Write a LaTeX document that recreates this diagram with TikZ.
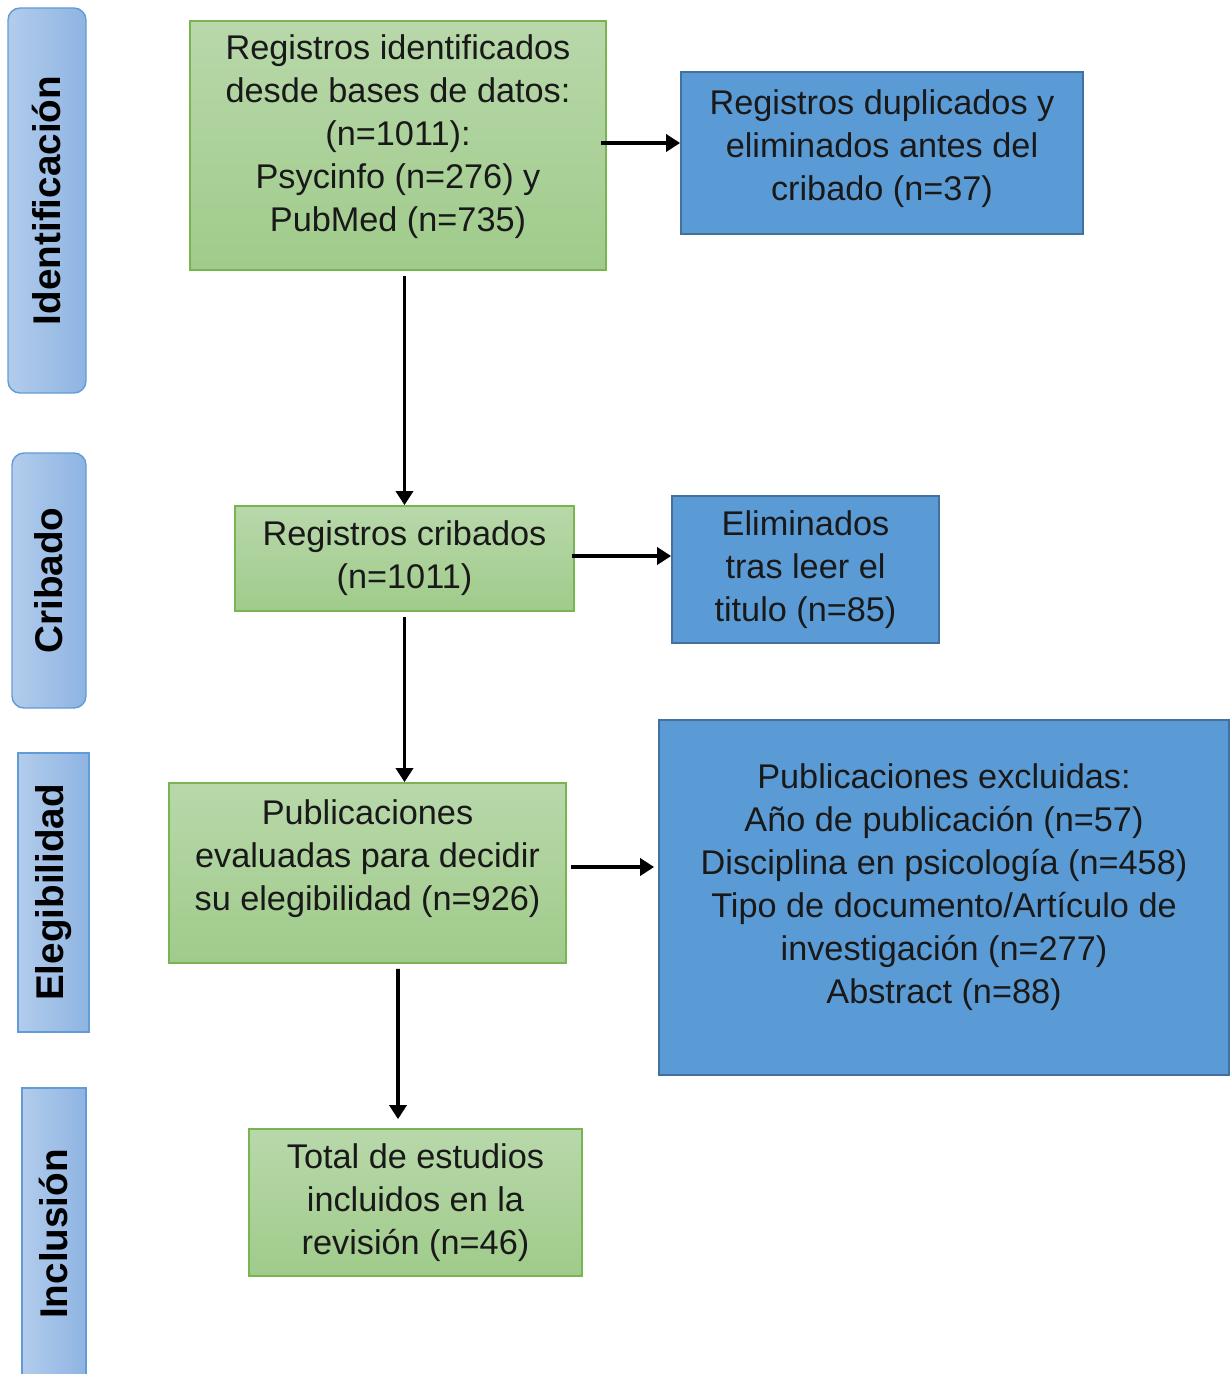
\documentclass[tikz,border=0pt]{standalone}
\usepackage{fontspec}
\setmainfont{Liberation Sans}
\usetikzlibrary{arrows.meta}

\definecolor{barlight}{RGB}{178,204,236}
\definecolor{bardark}{RGB}{142,180,226}
\definecolor{barline}{RGB}{98,156,214}
\definecolor{greentop}{RGB}{184,216,170}
\definecolor{greenbot}{RGB}{160,203,139}
\definecolor{greenline}{RGB}{120,180,80}
\definecolor{bluefill}{RGB}{91,155,213}
\definecolor{blueline}{RGB}{65,113,156}

\begin{document}
\begin{tikzpicture}[
    flow/.style={line width=2.2pt,-{Triangle[length=0.28cm,width=0.34cm]}},
    txt/.style={font=\fontsize{19.5pt}{24.5pt}\selectfont,align=center,text=black!90}
  ]
      \useasboundingbox (0,0) rectangle (24.58,-27.48);

      % fases
      \begin{scope}[every node/.style={draw=barline,line width=0.8pt,rotate=90,
          left color=barlight,right color=bardark,
          font=\fontsize{22pt}{26pt}\selectfont\bfseries}]
        \node[rounded corners=0.24cm,minimum width=7.7cm,minimum height=1.56cm] (ident) at (0.94,-4.01) {Identificación};
        \node[rounded corners=0.24cm,minimum width=5.1cm,minimum height=1.48cm] (crib) at (0.98,-11.61) {Cribado};
        \node[minimum width=5.58cm,minimum height=1.42cm] (eleg) at (1.07,-17.85) {Elegibilidad};
        \node[minimum width=5.84cm,minimum height=1.28cm] (incl) at (1.08,-24.68) {Inclusión};
      \end{scope}

      % registros
      \begin{scope}[every node/.style={txt,draw=greenline,line width=1pt,
          top color=greentop,bottom color=greenbot}]
        \node[minimum width=8.32cm,minimum height=4.98cm] (reg) at (7.96,-2.91)
          {Registros identificados\\desde bases de datos:\\(n=1011):\\Psycinfo (n=276) y\\PubMed (n=735)\\[-0.38cm]};
        \node[minimum width=6.78cm,minimum height=2.1cm] (scr) at (8.09,-11.17)
          {Registros cribados\\(n=1011)};
        \node[minimum width=7.94cm,minimum height=3.6cm] (eval) at (7.35,-17.46)
          {Publicaciones\\evaluadas para decidir\\su elegibilidad (n=926)\\[-0.14cm]};
        \node[minimum width=6.66cm,minimum height=2.94cm] (tot) at (8.31,-24.05)
          {Total de estudios\\incluidos en la\\revisión (n=46)};
      \end{scope}

      % excluidos
      \begin{scope}[every node/.style={txt,draw=blueline,line width=1pt,fill=bluefill}]
        \node[minimum width=8.04cm,minimum height=3.24cm] (dup) at (17.64,-3.06)
          {Registros duplicados y\\eliminados antes del\\cribado (n=37)\\[-0.54cm]};
        \node[minimum width=5.34cm,minimum height=2.94cm] (tit) at (16.11,-11.39)
          {Eliminados\\tras leer el\\titulo (n=85)};
        \node[minimum width=11.4cm,minimum height=7.1cm] (exc) at (18.88,-17.95)
          {Publicaciones excluidas:\\Año de publicación (n=57)\\Disciplina en psicología (n=458)\\Tipo de documento/Artículo de\\investigación (n=277)\\Abstract (n=88)\\[-0.3cm]};
      \end{scope}

      \draw[flow] ([xshift=-0.12cm,yshift=0.05cm]reg.east) -- ([yshift=0.05cm]reg.east -| dup.west);
      \draw[flow] ([yshift=-0.1cm]reg.south -| scr.north) -- (scr.north);
      \draw[flow] ([xshift=-0.06cm,yshift=0.05cm]scr.east) -- ([yshift=0.05cm]scr.east -| tit.west);
      \draw[flow] ([yshift=-0.1cm]scr.south) -- (scr.south |- eval.north);
      \draw[flow] ([xshift=0.08cm,yshift=0.12cm]eval.east) -- ([xshift=-0.08cm,yshift=0.12cm]eval.east -| exc.west);
      \draw[flow] ([xshift=0.61cm,yshift=-0.1cm]eval.south) -- ([xshift=-0.35cm,yshift=0.18cm]tot.north);

    \end{tikzpicture}
\end{document}
